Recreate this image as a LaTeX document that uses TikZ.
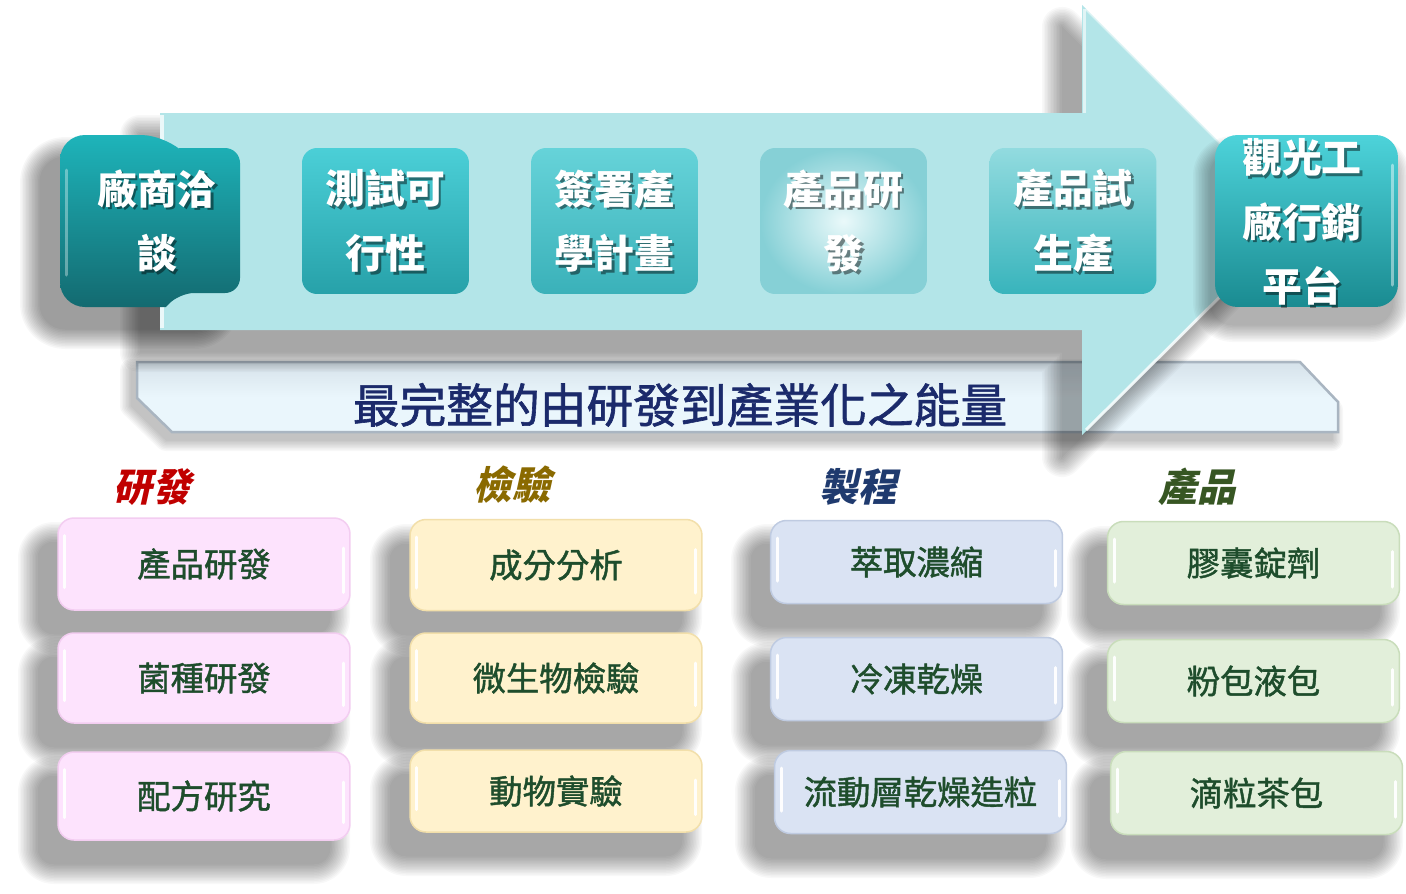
\documentclass[tikz,border=0pt]{standalone}
\usepackage{fontspec}
\newfontfamily\cjk{Noto Sans CJK TC}
\newfontfamily\cjkmb[FakeBold=1.3]{Noto Sans CJK TC}
\newfontfamily\cjksl[FakeSlant=0.22]{Noto Sans CJK TC}
\definecolor{arrowc}{HTML}{B3E5E8}
\definecolor{bannerc}{HTML}{EAF6FC}
\definecolor{bannertop}{HTML}{D6E2EA}
\definecolor{bannerd}{HTML}{A9B5C1}
\definecolor{navyt}{HTML}{1B2A6B}
\definecolor{pinkc}{HTML}{FDE3FD}
\definecolor{pinkd}{HTML}{F3CDF1}
\definecolor{creamc}{HTML}{FFF2CD}
\definecolor{creamd}{HTML}{F2DFAA}
\definecolor{bluec}{HTML}{DAE3F3}
\definecolor{blued}{HTML}{BFCBE1}
\definecolor{greenc}{HTML}{E2EFDA}
\definecolor{greend}{HTML}{C9DDBB}
\definecolor{txtc}{HTML}{1E4D2C}
\definecolor{hred}{HTML}{C00000}
\definecolor{holive}{HTML}{8A6A00}
\definecolor{hnavy}{HTML}{1F3A6E}
\definecolor{hgreen}{HTML}{375623}
\definecolor{bxatop}{HTML}{1EB4BA}
\definecolor{bxabot}{HTML}{136A70}
\definecolor{bxbtop}{HTML}{4BCFD7}
\definecolor{bxbbot}{HTML}{27A1A9}
\definecolor{bxctop}{HTML}{66D3D9}
\definecolor{bxcbot}{HTML}{3AB1B9}
\definecolor{bxdin}{HTML}{EAF9FA}
\definecolor{bxdout}{HTML}{86D0D6}
\definecolor{bxetop}{HTML}{92DBDF}
\definecolor{bxebot}{HTML}{38B4BC}
\definecolor{bxftop}{HTML}{4DD3DA}
\definecolor{bxfbot}{HTML}{1A8B91}
% soft shadow: #1 shift, #2 max width (px), #3 opacity per layer, #4 path
\newcommand\softshadow[4]{%
  \foreach \w in {1,4,...,#2}{%
    \begin{scope}[transparency group, opacity=#3, shift={#1}]
      \filldraw[black, line width=\w*0.02cm, line join=round] #4;
    \end{scope}}}
\tikzset{
  topbox/.style={rectangle, rounded corners=0.3cm, minimum width=3.34cm, minimum height=2.92cm, inner sep=0pt},
  ttext/.style={text=white, align=center, font=\cjk\bfseries\fontsize{22.7}{36.8}\selectfont},
  tshadow/.style={text=black, opacity=0.45, align=center, font=\cjk\bfseries\fontsize{22.7}{36.8}\selectfont},
  lowbox/.style={rectangle, rounded corners=0.32cm, minimum width=5.84cm, inner sep=0pt, text=txtc,
    font=\cjkmb\fontsize{19}{22}\selectfont, line width=0.03cm,
    path picture={
      \draw[white, line width=0.06cm, line cap=round, opacity=0.95]
        ([xshift=0.13cm,yshift=-0.35cm]path picture bounding box.north west) --
        ([xshift=0.13cm,yshift=0.45cm]path picture bounding box.south west);
      \draw[white, line width=0.06cm, line cap=round, opacity=0.95]
        ([xshift=-0.13cm,yshift=-0.6cm]path picture bounding box.north east) --
        ([xshift=-0.13cm,yshift=0.35cm]path picture bounding box.south east);
    }},
  pinkbox/.style={lowbox, fill=pinkc, draw=pinkd},
  creambox/.style={lowbox, fill=creamc, draw=creamd},
  bluebox/.style={lowbox, fill=bluec, draw=blued},
  greenbox/.style={lowbox, fill=greenc, draw=greend},
  head/.style={font=\cjksl\bfseries\fontsize{22}{24}\selectfont}
}
\begin{document}
\begin{tikzpicture}[x=0.02cm,y=-0.02cm]
\useasboundingbox[fill=white] (0,0) rectangle (1406,893);

% banner
\softshadow{(-6,8)}{22}{0.03}{(137,362) -- (1300,362) -- (1338,402) -- (1338,432) -- (172,432) -- (137,398) -- cycle}
\path[top color=bannertop, bottom color=bannerc, middle color=bannerc, draw=bannerd, line width=0.05cm]
  (137,362) -- (1300,362) -- (1338,402) -- (1338,432) -- (172,432) -- (137,398) -- cycle;
\node[text=navyt, font=\cjkmb\fontsize{26.6}{30}\selectfont] (bantext) at (680,405) {最完整的由研發到產業化之能量};

% shadows of first box and big arrow
\softshadow{(-20,22)}{40}{0.03}{[rounded corners=0.5cm] (60,135) rectangle (240,307)}
\softshadow{(-20,22)}{40}{0.028}{(160,113) -- (1082,113) -- (1082,5) -- (1297,220) -- (1082,435) -- (1082,330) -- (160,330) -- cycle}
% big arrow
\path[fill=arrowc]
  (160,113) -- (1082,113) -- (1082,5) -- (1297,220) -- (1082,435) -- (1082,330) -- (160,330) -- cycle;
\draw[white, opacity=0.75, line width=0.07cm] (162,115) -- (162,328);
\draw[white, opacity=0.6, line width=0.06cm] (1084,9) -- (1084,113);
\draw[white, opacity=0.8, line width=0.06cm] (1290,227) -- (1086,430);
\draw[white, opacity=0.5, line width=0.05cm] (1086,9) -- (1290,213);

% first box (notched)
\path[top color=bxatop, bottom color=bxabot]
  (60,220) [rounded corners=0.5cm] -- (60,135) -- (166,135) [sharp corners] -- (179,148) [rounded corners=0.3cm] -- (240,148) -- (240,293) -- (179,293) [sharp corners] -- (166,307) [rounded corners=0.5cm] -- (60,307) [sharp corners] -- cycle;
\draw[white, opacity=0.35, line width=0.06cm, line cap=round] (66,170) -- (66,275);
\node[tshadow] (t1s) at (159.5,223.5) {廠商洽\\談};
\node[ttext] (t1) at (157,221) {廠商洽\\談};

% top boxes
\node[topbox, top color=bxbtop, bottom color=bxbbot] (b2) at (385.5,221) {};
\node[tshadow] (t2s) at (388,223.5) {測試可\\行性};
\node[ttext] (t2) at (385.5,221) {測試可\\行性};

\node[topbox, inner color=bxdin, outer color=bxdout] (b4) at (843.5,221) {};
\node[topbox, top color=bxctop, bottom color=bxcbot] (b3) at (614.5,221) {};
\node[tshadow] (t3s) at (617,223.5) {簽署產\\學計畫};
\node[ttext] (t3) at (614.5,221) {簽署產\\學計畫};

\node[tshadow] (t4s) at (846,223.5) {產品研\\發};
\node[ttext] (t4) at (843.5,221) {產品研\\發};

\node[topbox, top color=bxetop, bottom color=bxebot] (b5) at (1073,221) {};
\node[tshadow] (t5s) at (1075.5,223.5) {產品試\\生產};
\node[ttext] (t5) at (1073,221) {產品試\\生產};

\softshadow{(-5,18)}{34}{0.028}{[rounded corners=0.45cm] (1215,135) rectangle (1398,307)}
\node[topbox, minimum width=3.66cm, minimum height=3.44cm, rounded corners=0.45cm, top color=bxftop, bottom color=bxfbot] (b6) at (1306.5,221) {};
\draw[white, opacity=0.45, line width=0.06cm, line cap=round] (1392,165) -- (1392,285);
\node[tshadow] (t6s) at (1304.5,224.5) {觀光工\\廠行銷\\平台};
\node[ttext] (t6) at (1302,222) {觀光工\\廠行銷\\平台};

% headings
\node[head, text=hred] (h1) at (152,487) {研發};
\node[head, text=holive] (h2) at (512,485) {檢驗};
\node[head, text=hnavy] (h3) at (858,487) {製程};
\node[head, text=hgreen] (h4) at (1197,487) {產品};

% shadows of lower boxes
\foreach \xa/\ya/\xb/\yb in {58/518/350/610, 58/633/350/723, 58/752/350/840,
  410/520/702/611, 410/633/702/723, 410/750/702/832,
  771/520/1062/603, 771/638/1062/721, 775/751/1066/834,
  1107/522/1400/605, 1107/640/1400/723, 1110/752/1403/835}{
  \softshadow{(-20,24)}{40}{0.027}{[rounded corners=0.32cm] (\xa,\ya) rectangle (\xb,\yb)}
}

% column 1
\node[pinkbox, minimum height=1.84cm] (r1c1) at (204,564) {產品研發};
\node[pinkbox, minimum height=1.80cm] (r2c1) at (204,678) {菌種研發};
\node[pinkbox, minimum height=1.76cm] (r3c1) at (204,796) {配方研究};
% column 2
\node[creambox, minimum height=1.82cm] (r1c2) at (556,565) {成分分析};
\node[creambox, minimum height=1.80cm] (r2c2) at (556,678) {微生物檢驗};
\node[creambox, minimum height=1.64cm] (r3c2) at (556,791) {動物實驗};
% column 3
\node[bluebox, minimum height=1.66cm] (r1c3) at (916.5,562) {萃取濃縮};
\node[bluebox, minimum height=1.66cm] (r2c3) at (916.5,679) {冷凍乾燥};
\node[bluebox, minimum height=1.66cm] (r3c3) at (920.5,792) {流動層乾燥造粒};
% column 4
\node[greenbox, minimum height=1.66cm] (r1c4) at (1253.5,563) {膠囊錠劑};
\node[greenbox, minimum height=1.66cm] (r2c4) at (1253.5,681) {粉包液包};
\node[greenbox, minimum height=1.66cm] (r3c4) at (1256.5,793) {滴粒茶包};
\end{tikzpicture}
\end{document}
